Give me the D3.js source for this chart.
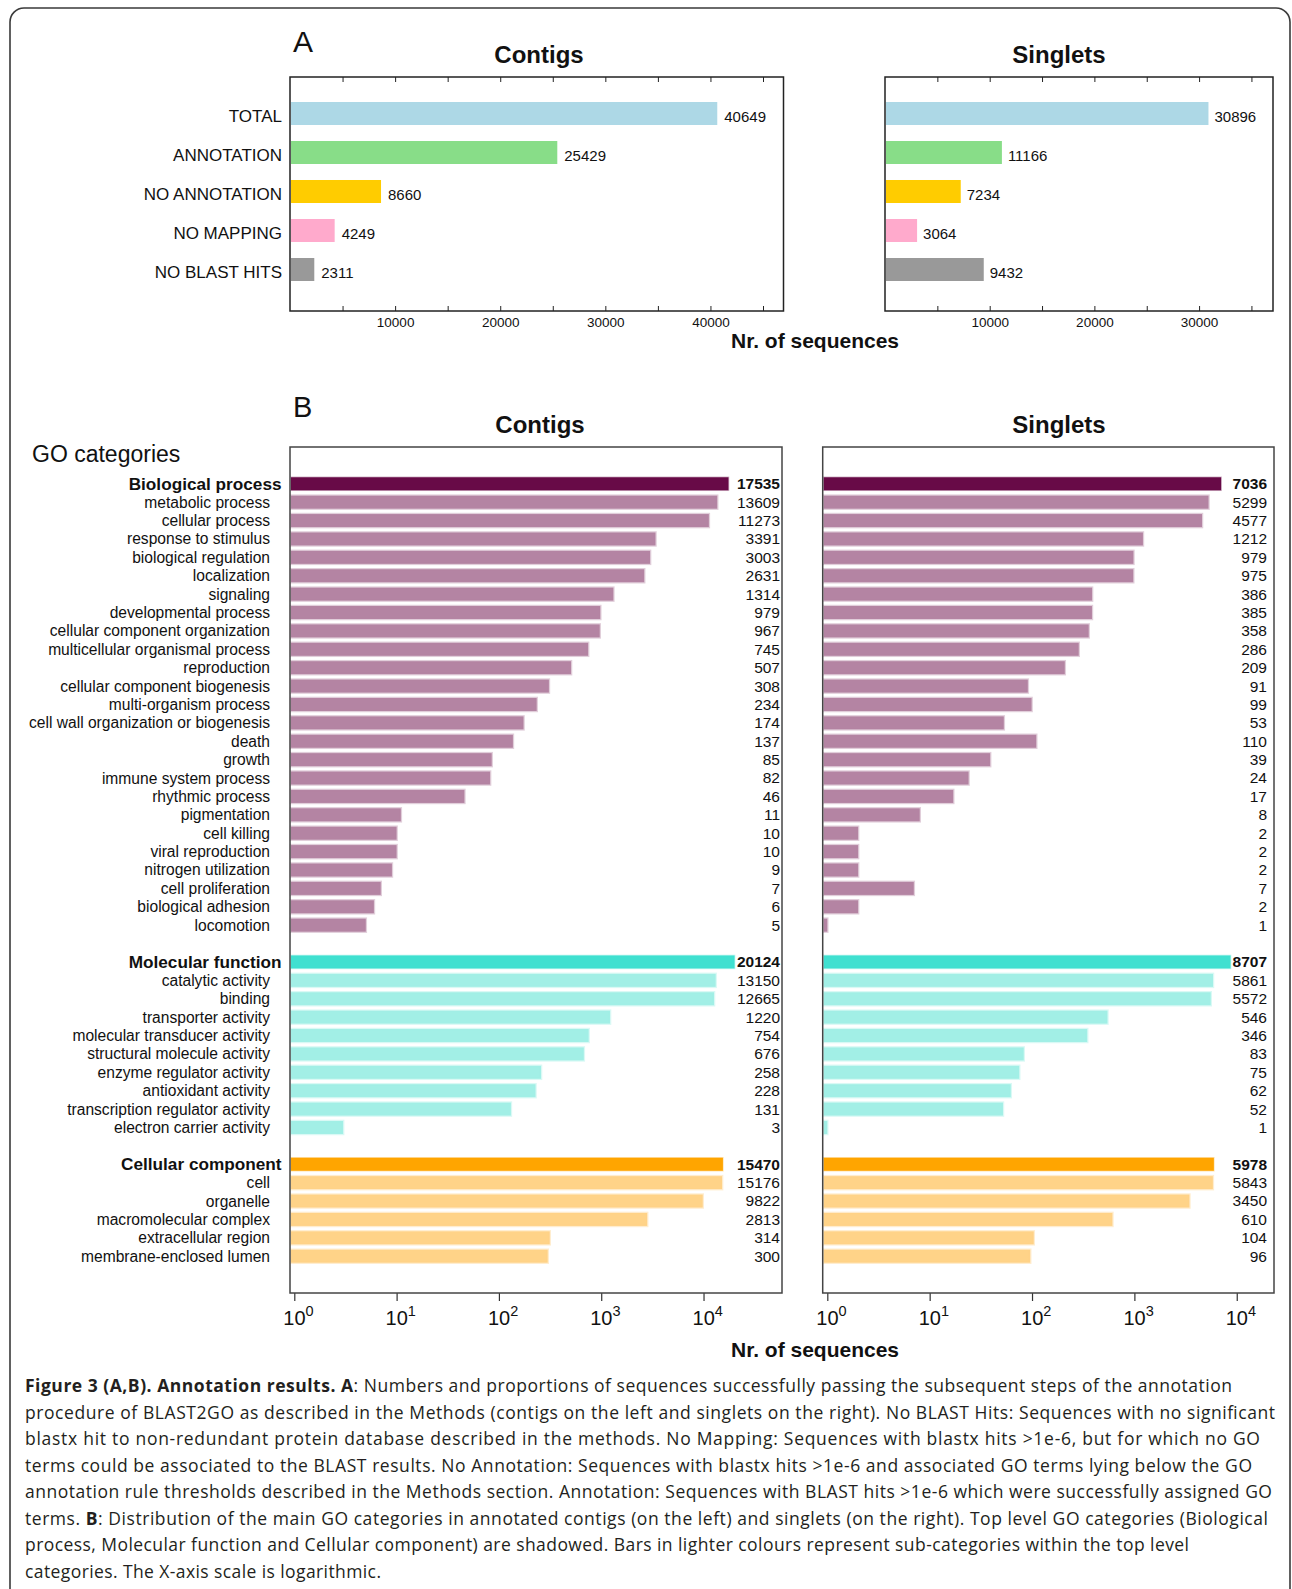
<!DOCTYPE html>
<html><head><meta charset="utf-8">
<script src="https://cdn.jsdelivr.net/npm/d3@7"></script>
<style>
body{margin:0;background:#fff}
svg{display:block}
text{font-family:"Liberation Sans",Arial,Helvetica,sans-serif;fill:#111}
.cap text, text.cap{font-family:"Open Sans","Noto Sans",sans-serif;fill:#231f20}
</style>
</head><body>
<svg id="c" width="1292" height="1589"></svg>
<script>
// ---------- DATA ----------
const summaryCategories = ["TOTAL","ANNOTATION","NO ANNOTATION","NO MAPPING","NO BLAST HITS"];
const summaryContigs   = [40649, 25429, 8660, 4249, 2311];
const summarySinglets  = [30896, 11166, 7234, 3064, 9432];
const summaryTicks     = [5000,10000,15000,20000,25000,30000,35000,40000,45000];

const goTopCategories = ["Biological process","Molecular function","Cellular component"];
const goTopContigs    = [17535, 20124, 15470];
const goTopSinglets   = [7036, 8707, 5978];

const bpCategories = ["metabolic process","cellular process","response to stimulus","biological regulation",
  "localization","signaling","developmental process","cellular component organization",
  "multicellular organismal process","reproduction","cellular component biogenesis",
  "multi-organism process","cell wall organization or biogenesis","death","growth",
  "immune system process","rhythmic process","pigmentation","cell killing","viral reproduction",
  "nitrogen utilization","cell proliferation","biological adhesion","locomotion"];
const bpContigs  = [13609,11273,3391,3003,2631,1314,979,967,745,507,308,234,174,137,85,82,46,11,10,10,9,7,6,5];
const bpSinglets = [5299,4577,1212,979,975,386,385,358,286,209,91,99,53,110,39,24,17,8,2,2,2,7,2,1];

const mfCategories = ["catalytic activity","binding","transporter activity","molecular transducer activity",
  "structural molecule activity","enzyme regulator activity","antioxidant activity",
  "transcription regulator activity","electron carrier activity"];
const mfContigs  = [13150,12665,1220,754,676,258,228,131,3];
const mfSinglets = [5861,5572,546,346,83,75,62,52,1];

const ccCategories = ["cell","organelle","macromolecular complex","extracellular region","membrane-enclosed lumen"];
const ccContigs  = [15176,9822,2813,314,300];
const ccSinglets = [5843,3450,610,104,96];

const goTicks = [1,10,100,1000,10000];

const captionLines = [
  [["b","Figure 3 (A,B). Annotation results. A"],["n",": Numbers and proportions of sequences successfully passing the subsequent steps of the annotation"]],
  [["n","procedure of BLAST2GO as described in the Methods (contigs on the left and singlets on the right). No BLAST Hits: Sequences with no significant"]],
  [["n","blastx hit to non-redundant protein database described in the methods. No Mapping: Sequences with blastx hits >1e-6, but for which no GO"]],
  [["n","terms could be associated to the BLAST results. No Annotation: Sequences with blastx hits >1e-6 and associated GO terms lying below the GO"]],
  [["n","annotation rule thresholds described in the Methods section. Annotation: Sequences with BLAST hits >1e-6 which were successfully assigned GO"]],
  [["n","terms. "],["b","B"],["n",": Distribution of the main GO categories in annotated contigs (on the left) and singlets (on the right). Top level GO categories (Biological"]],
  [["n","process, Molecular function and Cellular component) are shadowed. Bars in lighter colours represent sub-categories within the top level"]],
  [["n","categories. The X-axis scale is logarithmic."]]
];
const captionEnds = [1232,1275,1260,1252,1272,1268,1189,381];

// ---------- STYLE ----------
const summaryColors = ["#add8e6","#88dd88","#ffcc00","#ffaacc","#999999"];
const goTopColors = ["#680a47","#40e0d0","#ffa500"];
const goSubColors = ["#b484a3","#a2efe6","#ffd388"];

const svg = d3.select("#c");

// outer rounded frame
svg.append("rect").attr("x",10).attr("y",8).attr("width",1280).attr("height",1650)
  .attr("rx",14).attr("fill","none").attr("stroke","#3a3a3a").attr("stroke-width",1.6);

// ---------- PANEL A ----------
svg.append("text").attr("x",293).attr("y",52).attr("font-size",30).text("A");
const yA = d3.scaleBand().domain(summaryCategories).range([94,289]).paddingInner(0.41).paddingOuter(0.205);
const aTop = 77, aBot = 311;
const panelsA = [
  {values: summaryContigs, title:"Contigs", left:290, right:783.5, max:46950, titleX:539, dx:7, labels:true},
  {values: summarySinglets, title:"Singlets", left:885, right:1273, max:37060, titleX:1059, dx:6, labels:false}
];
panelsA.forEach(p => {
  const g = svg.append("g");
  const x = d3.scaleLinear().domain([0,p.max]).range([p.left,p.right]);
  const ticks = summaryTicks.filter(t => t < p.max);
  g.append("text").attr("x",p.titleX).attr("y",63).attr("text-anchor","middle")
    .attr("font-size",24).attr("font-weight","bold").text(p.title);
  g.selectAll("rect.bar").data(p.values).join("rect").attr("class","bar")
    .attr("x",p.left+1).attr("y",(d,i)=>yA(summaryCategories[i]))
    .attr("width",d=>x(d)-p.left-1).attr("height",yA.bandwidth())
    .attr("fill",(d,i)=>summaryColors[i]);
  g.selectAll("text.val").data(p.values).join("text").attr("class","val")
    .attr("x",d=>x(d)+p.dx).attr("y",(d,i)=>yA(summaryCategories[i])+yA.bandwidth()/2+3.5)
    .attr("dy","0.35em").attr("font-size",15).text(d=>d);
  if (p.labels) {
    g.selectAll("text.cat").data(summaryCategories).join("text").attr("class","cat")
      .attr("x",282).attr("y",d=>yA(d)+yA.bandwidth()/2+3).attr("dy","0.35em")
      .attr("text-anchor","end").attr("font-size",17).text(d=>d);
  }
  const ax = g.append("g").attr("transform",`translate(0,${aBot})`)
    .call(d3.axisBottom(x).tickValues(ticks).tickSize(-5).tickFormat(d => d%10000===0 ? d : ""));
  ax.select(".domain").remove();
  ax.selectAll("line").attr("stroke","#222");
  ax.selectAll("text").attr("y",16).attr("dy",0).attr("font-size",13.5)
    .style("font-family",'"Liberation Sans",Arial,sans-serif').attr("fill","#111");
  const axT = g.append("g").attr("transform",`translate(0,${aTop})`)
    .call(d3.axisTop(x).tickValues(ticks).tickSize(-5).tickFormat(""));
  axT.select(".domain").remove();
  axT.selectAll("line").attr("stroke","#222");
  g.append("rect").attr("x",p.left).attr("y",aTop).attr("width",p.right-p.left).attr("height",aBot-aTop)
    .attr("fill","none").attr("stroke","#222").attr("stroke-width",1.5);
});
svg.append("text").attr("x",815).attr("y",348).attr("text-anchor","middle")
  .attr("font-size",21).attr("font-weight","bold").text("Nr. of sequences");

// ---------- PANEL B ----------
svg.append("text").attr("x",293).attr("y",417).attr("font-size",29).text("B");
svg.append("text").attr("x",32).attr("y",462).attr("font-size",23).text("GO categories");

const groupsB = [
  {cats: bpCategories, contigs: bpContigs, singlets: bpSinglets},
  {cats: mfCategories, contigs: mfContigs, singlets: mfSinglets},
  {cats: ccCategories, contigs: ccContigs, singlets: ccSinglets}
];
const rows = [];
groupsB.forEach((g,gi) => {
  if (gi > 0) rows.push({key:"gap"+gi, gap:true});
  rows.push({key:goTopCategories[gi], label:goTopCategories[gi], top:true, group:gi,
             contigs:goTopContigs[gi], singlets:goTopSinglets[gi]});
  g.cats.forEach((c,i) => rows.push({key:c, label:c, top:false, group:gi,
             contigs:g.contigs[i], singlets:g.singlets[i]}));
});
const dataRows = rows.filter(r => !r.gap);
const bTop = 447, bBot = 1293;
const yB = d3.scaleBand().domain(rows.map(r=>r.key)).range([bTop,bBot]).paddingInner(0.293).paddingOuter(1.6465);

const panelsB = [
  {field:"contigs", title:"Contigs", left:290, right:782, lo:-0.042, hi:4.767, labelRight:780, titleX:540, labels:true},
  {field:"singlets", title:"Singlets", left:822.7, right:1274, lo:-0.045, hi:4.364, labelRight:1267, titleX:1059, labels:false}
];
panelsB.forEach(p => {
  const g = svg.append("g");
  const x = d3.scaleLog().domain([Math.pow(10,p.lo), Math.pow(10,p.hi)]).range([p.left,p.right]);
  g.append("text").attr("x",p.titleX).attr("y",433).attr("text-anchor","middle")
    .attr("font-size",24).attr("font-weight","bold").text(p.title);
  g.selectAll("rect.bar").data(dataRows).join("rect").attr("class","bar")
    .attr("x",p.left+1).attr("y",d=>yB(d.key))
    .attr("width",d=>Math.max(0,x(d[p.field])-p.left-1)).attr("height",yB.bandwidth())
    .attr("fill",d=>d.top?goTopColors[d.group]:goSubColors[d.group])
    .attr("stroke",d=>d.top?goTopColors[d.group]:goSubColors[d.group])
    .attr("stroke-opacity",d=>d.top?0.3:0.4).attr("stroke-width",d=>d.top?1.5:2.5);
  g.selectAll("text.val").data(dataRows).join("text").attr("class","val")
    .attr("x",p.labelRight).attr("y",d=>yB(d.key)+yB.bandwidth()/2).attr("dy","0.35em")
    .attr("text-anchor","end").attr("font-size",15.5)
    .attr("font-weight",d=>d.top?"bold":"normal").text(d=>d[p.field]);
  if (p.labels) {
    g.selectAll("text.cat").data(dataRows).join("text").attr("class","cat")
      .attr("x",d=>d.top?281.5:270).attr("y",d=>yB(d.key)+yB.bandwidth()/2).attr("dy","0.35em")
      .attr("text-anchor","end").attr("font-size",d=>d.top?17.2:15.6)
      .attr("font-weight",d=>d.top?"bold":"normal").text(d=>d.label);
  }
  const ax = g.append("g").attr("transform",`translate(0,${bBot})`)
    .call(d3.axisBottom(x).tickValues(goTicks).tickSize(8).tickFormat(""));
  ax.select(".domain").remove();
  ax.selectAll("line").attr("stroke","#333").attr("stroke-width",1.2);
  ax.selectAll(".tick").each(function(d){
    const t = d3.select(this).append("text").attr("y",32).attr("x",-11.5)
      .attr("text-anchor","start").attr("fill","#111")
      .style("font-family",'"Liberation Sans",Arial,sans-serif');
    t.append("tspan").attr("font-size",20).text("10");
    t.append("tspan").attr("font-size",14.5).attr("dy",-9).text(Math.round(Math.log10(d)));
  });
  g.append("rect").attr("x",p.left).attr("y",bTop).attr("width",p.right-p.left).attr("height",bBot-bTop)
    .attr("fill","none").attr("stroke","#444").attr("stroke-width",1.5);
});
svg.append("text").attr("x",815).attr("y",1357).attr("text-anchor","middle")
  .attr("font-size",21).attr("font-weight","bold").text("Nr. of sequences");

// ---------- CAPTION ----------
const cap = svg.append("g").attr("class","cap");
captionLines.forEach((line,i) => {
  const t = cap.append("text").attr("x",25).attr("y",1392+i*26.5).attr("font-size",17.5)
    .attr("textLength",captionEnds[i]-25).attr("lengthAdjust","spacing");
  line.forEach(([w,s]) => t.append("tspan").attr("font-weight",w==="b"?"bold":"normal").text(s));
});
</script>
</body></html>
